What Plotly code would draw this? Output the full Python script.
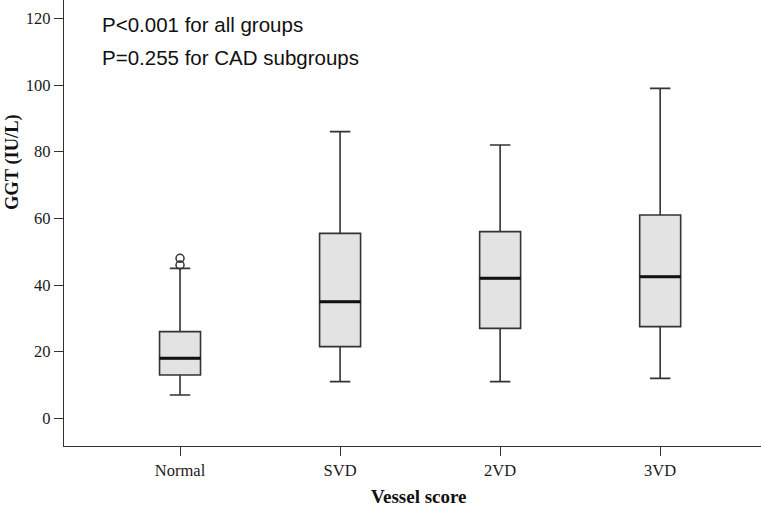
import plotly.graph_objects as go

categories = ["Normal", "SVD", "2VD", "3VD"]
lower_whisker = [7, 11, 11, 12]
q1_vals = [13, 21.5, 27, 27.5]
median_vals = [18, 35, 42, 42.5]
q3_vals = [26, 55.5, 56, 61]
upper_whisker = [45, 86, 82, 99]
outlier_group = [0, 0]
outlier_vals = [46, 48]

positions = list(range(len(categories)))
box_w = 0.256

fig = go.Figure()
fig.add_trace(go.Box(
    x=positions, q1=q1_vals, median=median_vals, q3=q3_vals,
    lowerfence=lower_whisker, upperfence=upper_whisker,
    width=box_w, whiskerwidth=0.5,
    fillcolor="#e3e3e3", line=dict(color="#333333", width=1.6),
    boxpoints=False, showlegend=False, hoverinfo="skip",
))
# thick median lines
mx, my = [], []
for p, m in zip(positions, median_vals):
    mx += [p - box_w / 2, p + box_w / 2, None]
    my += [m, m, None]
fig.add_trace(go.Scatter(x=mx, y=my, mode="lines",
                         line=dict(color="#111111", width=3),
                         showlegend=False, hoverinfo="skip"))
fig.add_trace(go.Scatter(x=outlier_group, y=outlier_vals, mode="markers",
                         marker=dict(symbol="circle-open", size=8,
                                     color="#333333", line=dict(width=1.5)),
                         showlegend=False, hoverinfo="skip"))

axis_common = dict(showline=True, linecolor="#333333", linewidth=1.2,
                   ticks="outside", tickcolor="#333333", tickwidth=1.2,
                   showgrid=False, zeroline=False,
                   tickfont=dict(family="Liberation Serif", size=16.5, color="#1a1a1a"))

fig.update_xaxes(range=[-0.725, 3.63], tickvals=positions, ticktext=categories,
                 ticklen=9, **axis_common)
fig.update_yaxes(range=[-8.3, 125.5], tickvals=[0, 20, 40, 60, 80, 100, 120],
                 ticklen=9, **axis_common)

fig.update_layout(
    width=761, height=507,
    margin=dict(l=64, r=0, t=0, b=61),
    plot_bgcolor="white", paper_bgcolor="white",
    annotations=[
        dict(text="<b>GGT (IU/L)</b>", xref="paper", yref="paper", x=-0.073, y=0.637,
             xanchor="center", yanchor="middle", textangle=-90, showarrow=False,
             font=dict(family="Liberation Serif", size=18.5, color="#111111")),
        dict(text="<b>Vessel score</b>", xref="paper", yref="paper", x=0.509, y=-0.114,
             xanchor="center", yanchor="middle", showarrow=False,
             font=dict(family="Liberation Serif", size=19, color="#111111")),
        dict(text="P<0.001 for all groups", xref="paper", yref="paper", x=0.0517, y=0.946,
             xanchor="left", yanchor="middle", showarrow=False,
             font=dict(family="Liberation Sans", size=20.5, color="#111111")),
        dict(text="P=0.255 for CAD subgroups", xref="paper", yref="paper", x=0.0517, y=0.872,
             xanchor="left", yanchor="middle", showarrow=False,
             font=dict(family="Liberation Sans", size=20.5, color="#111111")),
    ],
)

fig.write_html("out.html", config={"displayModeBar": False},
               post_script="document.body.style.margin='0';document.body.style.overflow='hidden';")
